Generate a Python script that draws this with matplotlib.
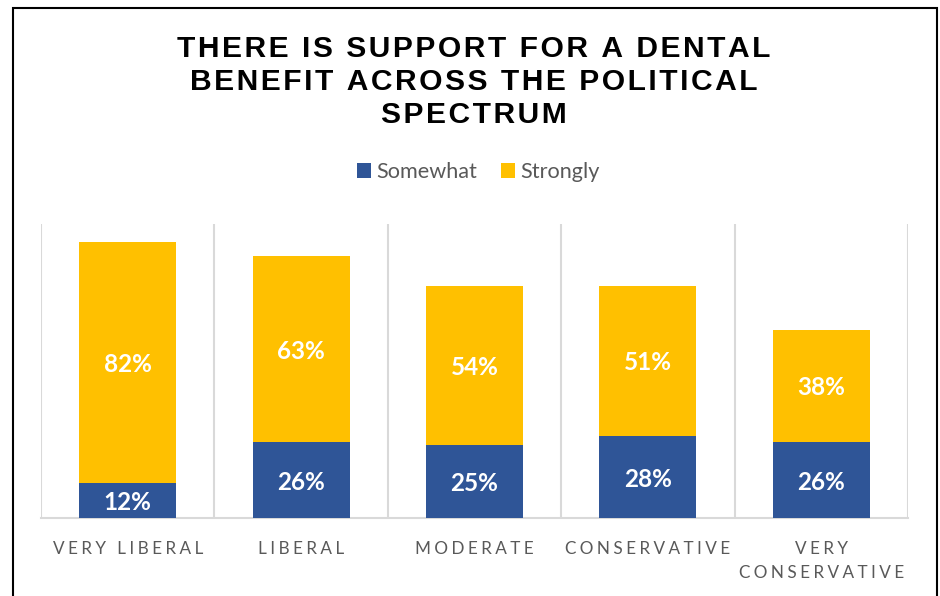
import matplotlib
matplotlib.use("Agg")
import matplotlib.pyplot as plt
import numpy as np
from matplotlib.patches import Rectangle
from matplotlib.font_manager import FontProperties

# ---- data ----
categories = ["VERY LIBERAL", "LIBERAL", "MODERATE", "CONSERVATIVE", "VERY\nCONSERVATIVE"]
somewhat = [12, 26, 25, 28, 26]
strongly = [82, 63, 54, 51, 38]
series_names = ["Somewhat", "Strongly"]
title_text = "THERE IS SUPPORT FOR A DENTAL\nBENEFIT ACROSS THE POLITICAL\nSPECTRUM"

# ---- style ----
W, H, DPI = 940, 596, 100
BLUE = "#2F5597"
GOLD = "#FFC000"
GRID = "#D9D9D9"
GRAYTXT = "#595959"

fig = plt.figure(figsize=(W / DPI, H / DPI), dpi=DPI)
fig.patch.set_facecolor("white")
renderer = fig.canvas.get_renderer()


def measure(t, prop):
    return renderer.get_text_width_height_descent(t, prop, ismath=False)


def spaced(s, prop, track_px):
    """Insert thin/hair spaces between letters to emulate letter spacing."""
    base = measure("HH", prop)[0]
    thin = measure("H\u2009H", prop)[0] - base
    hair = measure("H\u200aH", prop)[0] - base
    best = ("", abs(track_px))
    for nt in range(0, 4):
        for nh in range(0, 6):
            w = nt * thin + nh * hair
            err = abs(w - track_px)
            if err < best[1]:
                best = ("\u2009" * nt + "\u200a" * nh, err)
    gap = best[0]
    return "\n".join(gap.join(line) for line in s.split("\n"))


def line_spacing_for(pitch_px, prop):
    # matplotlib line pitch = descent + ascent * linespacing (based on "lp")
    _, h, d = measure("lp", prop)
    return (pitch_px - d) / (h - d), h - d


# ---- axes ----
ax = fig.add_axes([41 / W, 1 - 518 / H, (908 - 41) / W, (518 - 224) / H])
x = np.arange(len(categories))
bw = 0.56
b1 = ax.bar(x, somewhat, bw, color=BLUE, label=series_names[0], zorder=3)
b2 = ax.bar(x, strongly, bw, bottom=somewhat, color=GOLD, label=series_names[1], zorder=3)
ax.set_xlim(-0.5, len(categories) - 0.5)
ax.set_ylim(0, 100)
ax.set_yticks([])

for sp in ["top", "left", "right"]:
    ax.spines[sp].set_visible(False)
ax.spines["bottom"].set_color(GRID)
ax.spines["bottom"].set_linewidth(1.5)

ax.set_xticks(np.arange(-0.5, len(categories), 1.0), minor=True)
ax.grid(which="minor", axis="x", color=GRID, linewidth=1.5, zorder=0)
ax.tick_params(which="both", length=0)

# data labels
lab_prop = FontProperties(family=["Lato", "DejaVu Sans"], weight="bold", size=17.5)
for cont, vals in ((b1, somewhat), (b2, strongly)):
    ax.bar_label(cont, labels=[f"{v}%" for v in vals], label_type="center",
                 padding=-1.6, color="white", fontproperties=lab_prop)

# category labels (letter spaced)
cat_prop = FontProperties(family=["Lato", "DejaVu Sans"], size=12.3)
cat_ls, asc = line_spacing_for(24.0, cat_prop)
pad_px = 554 - asc - 518
ax.set_xticks(x)
ax.set_xticklabels([spaced(c, cat_prop, 3.6) for c in categories],
                   fontproperties=cat_prop, color=GRAYTXT)
ax.tick_params(axis="x", which="major", pad=pad_px * 72 / DPI)
for t in ax.get_xticklabels():
    t.set_linespacing(cat_ls)

# legend
leg_prop = FontProperties(family=["Lato", "DejaVu Sans"], size=15.6)
fig.legend(handles=[b1, b2], labels=series_names, loc="center",
           bbox_to_anchor=(478.5 / W, 1 - 172 / H), ncol=2, frameon=False,
           prop=leg_prop, labelcolor=GRAYTXT, handlelength=0.64, handleheight=0.64,
           handletextpad=0.25, columnspacing=1.1, borderpad=0, borderaxespad=0)

# title (va='baseline' aligns the last line's baseline)
title_prop = FontProperties(family=["Liberation Sans", "DejaVu Sans"], weight="bold", size=21.6)
title_ls, _ = line_spacing_for(33.0, title_prop)
fig.text(474 / W, 1 - 123 / H, spaced(title_text, title_prop, 2.7),
         fontproperties=title_prop, color="black", ha="center", va="baseline",
         multialignment="center", linespacing=title_ls)

# outer frame
fig.patches.append(Rectangle((12.5 / W, -0.05), (936.5 - 12.5) / W, 1.05 - 7.5 / H,
                             transform=fig.transFigure, fill=False,
                             edgecolor="black", linewidth=1.5, clip_on=False))

fig.savefig("out.png", dpi=DPI)
